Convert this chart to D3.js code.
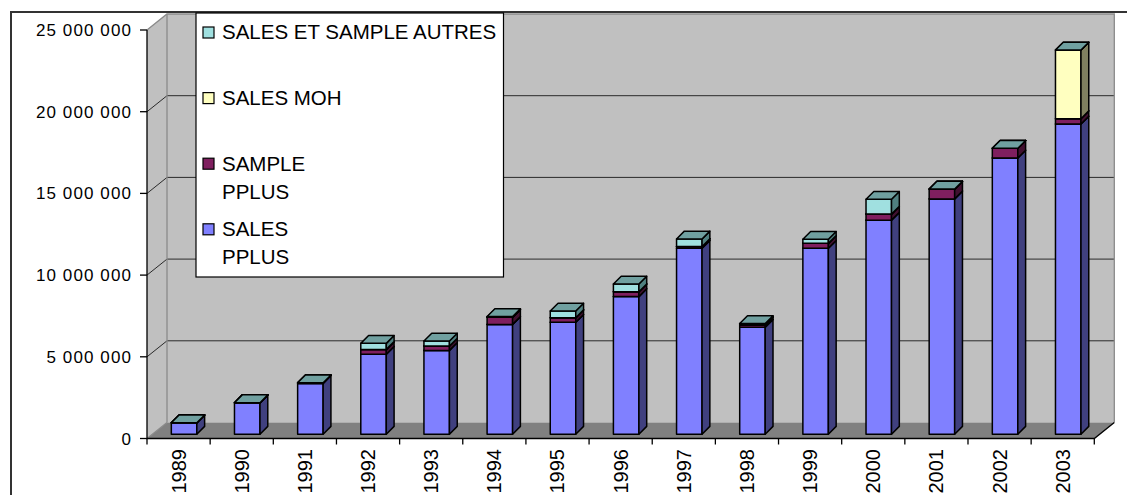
<!DOCTYPE html>
<html><head><meta charset="utf-8">
<script src="https://cdn.jsdelivr.net/npm/d3@7"></script>
<style>
html,body{margin:0;padding:0;background:#fff;overflow:hidden;}
svg{display:block;font-family:"Liberation Sans",Arial,sans-serif;}
</style>
</head><body>
<svg id="chart" width="1127" height="495"></svg>
<script>
// ---- data ----
const years = ["1989","1990","1991","1992","1993","1994","1995","1996","1997","1998","1999","2000","2001","2002","2003"];
const salesPplus   = [700000,1930000,3110000,4890000,5130000,6720000,6850000,8420000,11380000,6550000,11380000,13100000,14400000,16900000,18980000];
const samplePplus  = [0,0,40000,300000,270000,430000,280000,300000,100000,140000,300000,370000,600000,600000,330000];
const salesMoh     = [0,0,0,0,0,0,0,0,0,0,0,0,0,0,4200000];
const salesAutres  = [0,0,0,370000,300000,50000,410000,470000,470000,80000,250000,910000,0,0,0];
const seriesNames  = [["SALES","PPLUS"],["SAMPLE","PPLUS"],["SALES MOH"],["SALES ET SAMPLE AUTRES"]];
const seriesFront  = ["#8080FF","#7F1F5F","#FFFFC0","#A0E0E0"];
const seriesSide   = ["#40407F","#40102F","#808060","#508080"];
const seriesTop    = ["#6060BF","#5F1747","#BFBF90","#70A0A0"];
const yTickValues  = [0,5000000,10000000,15000000,20000000,25000000];

// ---- geometry ----
const svg = d3.select("#chart");
const x = d3.scaleBand().domain(years).range([147, 1094.3]);
const y = d3.scaleLinear().domain([0, 25000000]).range([438.5, 30]);
const DX = 20, DY = -16;          // wall depth
const BX = 5.5, BY = -4.3;        // bar front plane offset
const BW = 25.5, BD = 7.8;        // bar width & bar depth
const x0 = 147, x1 = 1094.3;
const fmt = v => d3.format(",")(v).replace(/,/g, " ");

// frame
svg.append("rect").attr("x", 11).attr("y", 12).attr("width", 1300).attr("height", 700)
  .attr("fill", "#fff").attr("stroke", "#333").attr("stroke-width", 2);

// side wall
svg.append("polygon")
  .attr("points", [[x0, y(25000000)], [x0+DX, y(25000000)+DY], [x0+DX, y(0)+DY], [x0, y(0)]].join(" "))
  .attr("fill", "#C0C0C0");
// back wall
svg.append("rect").attr("x", x0+DX).attr("y", y(25000000)+DY)
  .attr("width", x1 - x0).attr("height", y(0) - y(25000000))
  .attr("fill", "#C0C0C0");
// floor
svg.append("polygon")
  .attr("points", [[x0, y(0)], [x1, y(0)], [x1+DX, y(0)+DY], [x0+DX, y(0)+DY]].join(" "))
  .attr("fill", "#808080");

// gridlines
const inner = yTickValues.filter(v => v > 0 && v < 25000000);
svg.append("g").selectAll("path").data(inner).join("path")
  .attr("d", v => `M${x0},${y(v)}L${x0+DX},${y(v)+DY}H${x1+DX}`)
  .attr("fill", "none").attr("stroke", "#2a2a2a").attr("stroke-width", 1);

// wall edges (gray)
const edges = svg.append("g").attr("fill", "none").attr("stroke", "#8a8a8a").attr("stroke-width", 1.3);
edges.append("path").attr("d", `M${x0},${y(25000000)}L${x0+DX},${y(25000000)+DY}H${x1+DX}V${y(0)+DY}`);
edges.append("path").attr("d", `M${x0+DX},${y(25000000)+DY}V${y(0)+DY}`);
edges.append("path").attr("d", `M${x0},${y(0)}L${x0+DX},${y(0)+DY}`);

// axes
const ax = svg.append("g").attr("stroke", "#000").attr("stroke-width", 1.3).attr("fill", "none");
ax.append("path").attr("d", `M${x0},${y(25000000)}V${y(0)}H${x1}L${x1+DX},${y(0)+DY}`);
ax.selectAll(".yt").data(yTickValues).join("path").attr("class", "yt")
  .attr("d", v => `M${x0-7},${y(v)}H${x0}`);
const bounds = years.map(d => x(d)).concat([x1]);
ax.selectAll(".xt").data(bounds).join("path").attr("class", "xt")
  .attr("d", b => `M${b},${y(0)}V${y(0)+6}`);

svg.append("g").selectAll("text").data(yTickValues).join("text")
  .attr("x", 132).attr("y", v => y(v) + 6)
  .attr("text-anchor", "end").attr("font-size", 17).attr("letter-spacing", 1.1).attr("fill", "#000")
  .text(fmt);

svg.append("g").selectAll("text").data(years).join("text")
  .attr("transform", d => `translate(${x(d) + x.bandwidth()/2 + 7},449) rotate(-90)`)
  .attr("text-anchor", "end").attr("font-size", 20).attr("fill", "#000")
  .text(d => d);

// bars
const rows = years.map((yr, i) => [salesPplus[i], samplePplus[i], salesMoh[i], salesAutres[i]]);
const stacked = d3.stack().keys([0, 1, 2, 3])(rows);
const barG = svg.append("g").attr("stroke", "#000").attr("stroke-width", 1.5).attr("stroke-linejoin", "round");
years.forEach((yr, i) => {
  const bx = x(yr) + x.bandwidth()/2 + BX - BW/2;
  stacked.forEach((layer, s) => {
    const yt = y(layer[i][1]) + BY, yb = y(layer[i][0]) + BY;
    barG.append("rect").attr("x", bx).attr("y", yt).attr("width", BW).attr("height", yb - yt)
      .attr("fill", seriesFront[s]);
    barG.append("polygon")
      .attr("points", [[bx+BW, yb], [bx+BW+BD, yb-BD], [bx+BW+BD, yt-BD], [bx+BW, yt]].join(" "))
      .attr("fill", seriesSide[s]);
    barG.append("polygon")
      .attr("points", [[bx, yt], [bx+BW, yt], [bx+BW+BD, yt-BD], [bx+BD, yt-BD]].join(" "))
      .attr("fill", seriesTop[s]);
  });
});

// legend
const lg = svg.append("g");
lg.append("rect").attr("x", 196).attr("y", 13).attr("width", 307.5).attr("height", 264)
  .attr("fill", "#fff").attr("stroke", "#000").attr("stroke-width", 1.2);
const order = [3, 2, 1, 0];
order.forEach((s, k) => {
  const base = 39.3 + k * 65.6;
  lg.append("rect").attr("x", 203).attr("y", base - 12.3).attr("width", 11).attr("height", 11)
    .attr("fill", seriesFront[s]).attr("stroke", "#000").attr("stroke-width", 1.2);
  seriesNames[s].forEach((line, j) => {
    lg.append("text").attr("x", 222).attr("y", base + j * 28.3)
      .attr("font-size", 20.5).attr("fill", "#000").text(line);
  });
});
</script>
</body></html>
